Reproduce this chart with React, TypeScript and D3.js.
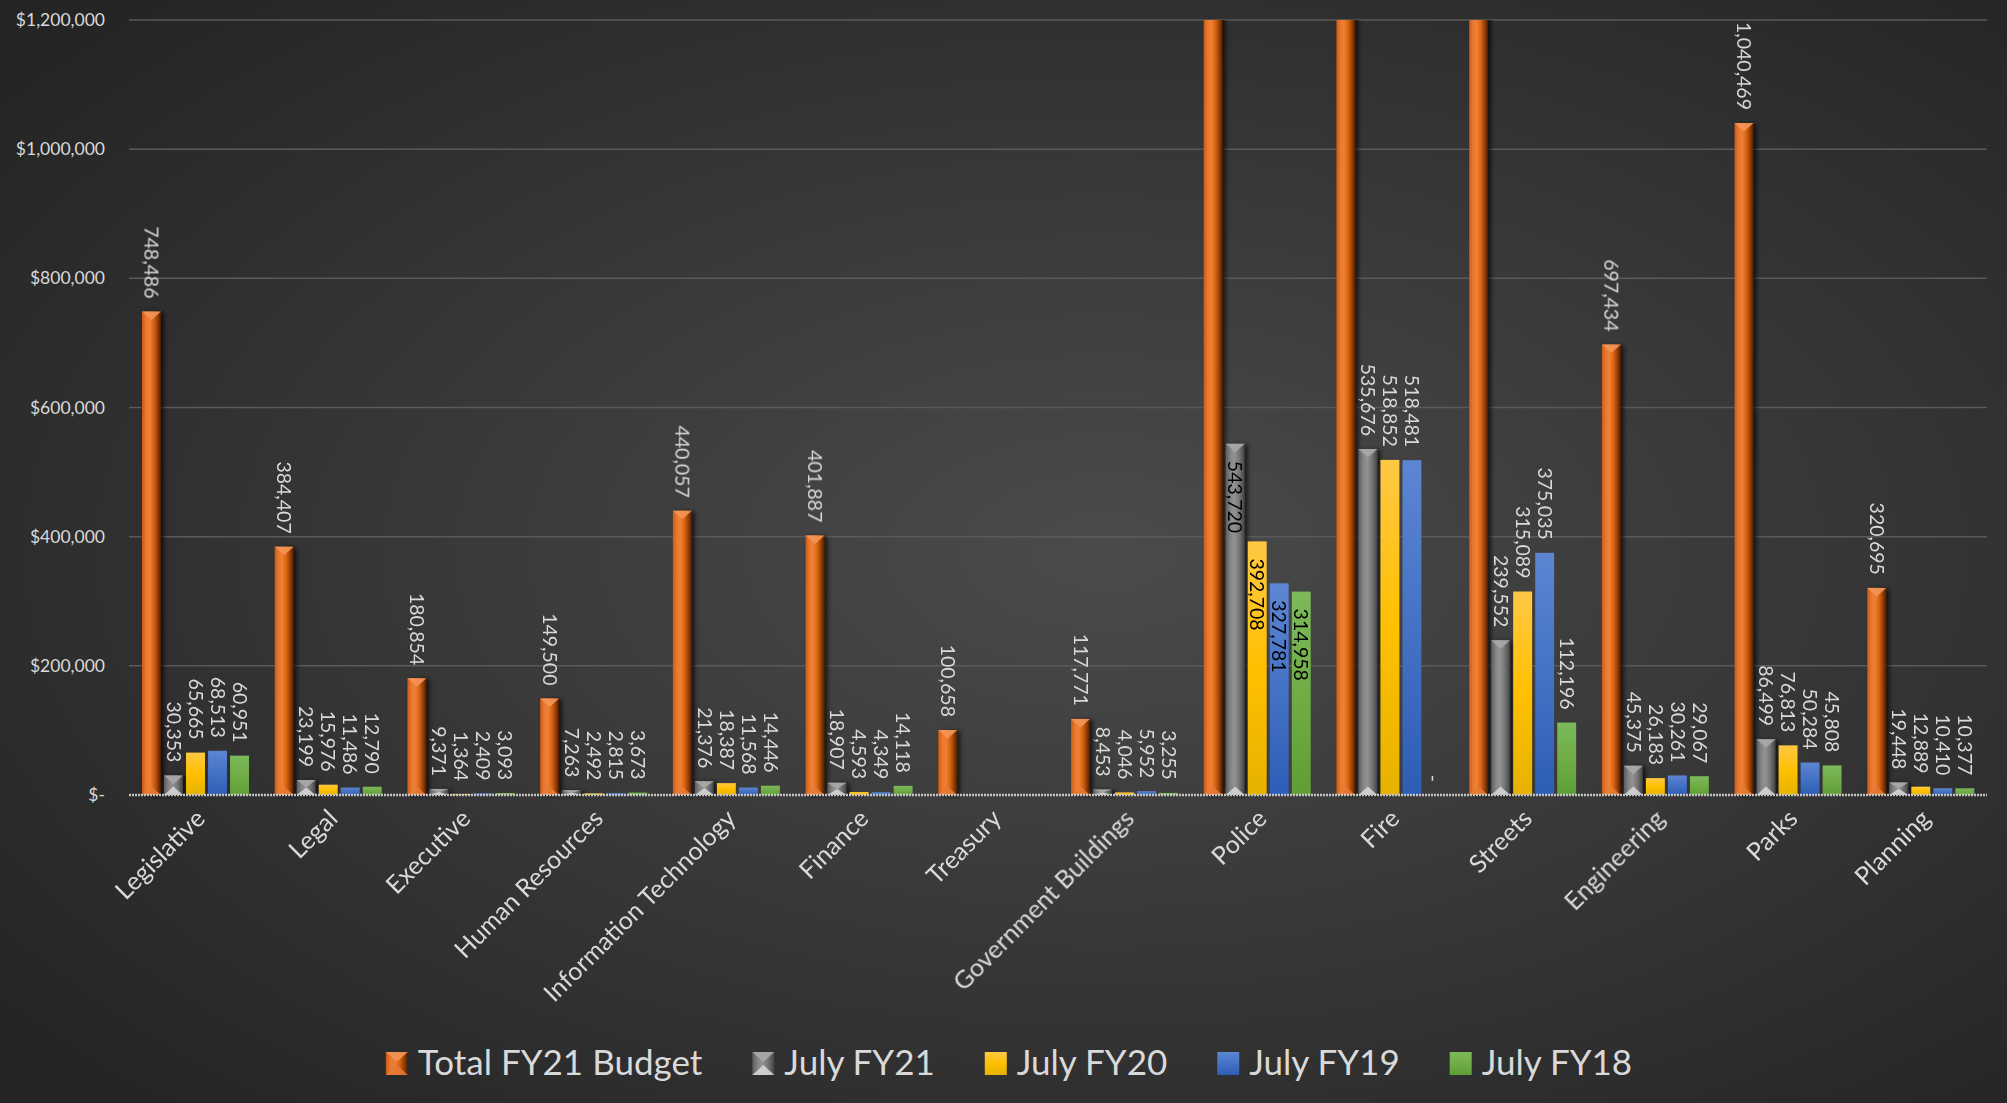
import React, { useEffect, useRef } from 'react';
import * as d3 from 'd3';

const categories = [
  'Legislative', 'Legal', 'Executive', 'Human Resources', 'Information Technology',
  'Finance', 'Treasury', 'Government Buildings', 'Police', 'Fire', 'Streets',
  'Engineering', 'Parks', 'Planning'
];
const seriesNames = ['Total FY21 Budget', 'July FY21', 'July FY20', 'July FY19', 'July FY18'];

// Police, Fire, Streets totals run off the top of the chart (labels not visible) - estimated
const totalFY21 = [748486, 384407, 180854, 149500, 440057, 401887, 100658, 117771, 2900000, 2400000, 1600000, 697434, 1040469, 320695];
const julyFY21 = [30353, 23199, 9371, 7263, 21376, 18907, null, 8453, 543720, 535676, 239552, 45375, 86499, 19448];
const julyFY20 = [65665, 15976, 1364, 2492, 18387, 4593, null, 4046, 392708, 518852, 315089, 26183, 76813, 12889];
const julyFY19 = [68513, 11486, 2409, 2815, 11568, 4349, null, 5952, 327781, 518481, 375035, 30261, 50284, 10410];
const julyFY18 = [60951, 12790, 3093, 3673, 14446, 14118, null, 3255, 314958, 0, 112196, 29067, 45808, 10377];
const yTicks = [0, 200000, 400000, 600000, 800000, 1000000, 1200000];

// categories whose labels sit inside the bar end
const insideLabelCats = ['Police'];

const W = 2007;
const H = 1103;
const FONT = "Lato, 'Open Sans', sans-serif";

export default function App() {
  const ref = useRef<SVGSVGElement>(null);

  useEffect(() => {
    document.body.style.margin = '0';
    const svg = d3.select(ref.current);
    svg.selectAll('*').remove();

    const allSeries = [totalFY21, julyFY21, julyFY20, julyFY19, julyFY18];
    const styles = ['orange', 'gray', 'yellow', 'blue', 'green'];

    const x0 = d3.scaleBand<string>().domain(categories).range([129, 1987]);
    const x1 = d3.scaleBand<string>().domain(seriesNames).range([13, 120]).paddingInner(0.14);
    const y = d3.scaleLinear().domain([0, 1200000]).range([795, 20]);
    const bw = x1.bandwidth();

    const defs = svg.append('defs');

    // 背景
    const bg = defs.append('radialGradient').attr('id', 'bg')
      .attr('cx', '55%').attr('cy', '50%').attr('r', '70%');
    bg.append('stop').attr('offset', 0).attr('stop-color', '#4b4b4b');
    bg.append('stop').attr('offset', 1).attr('stop-color', '#242424');

    const hGrad = (id, stops) => {
      const g = defs.append('linearGradient').attr('id', id)
        .attr('x1', '0%').attr('y1', '0%').attr('x2', '100%').attr('y2', '0%');
      stops.forEach(([o, c]) => g.append('stop').attr('offset', o).attr('stop-color', c));
    };
    const vGrad = (id, stops) => {
      const g = defs.append('linearGradient').attr('id', id)
        .attr('x1', '0%').attr('y1', '0%').attr('x2', '0%').attr('y2', '100%');
      stops.forEach(([o, c]) => g.append('stop').attr('offset', o).attr('stop-color', c));
    };
    hGrad('orange', [[0, '#c95a16'], [0.2, '#e8782e'], [0.4, '#f08038'], [0.62, '#d8640f'], [0.85, '#8c3a06'], [1, '#4a1e04']]);
    hGrad('gray', [[0, '#5c5c5c'], [0.25, '#858585'], [0.45, '#939393'], [0.7, '#777777'], [0.9, '#555555'], [1, '#3e3e3e']]);
    vGrad('yellow', [[0, '#ffc845'], [0.5, '#ffc000'], [1, '#e6b200']]);
    vGrad('blue', [[0, '#5d85d2'], [0.5, '#4472c4'], [1, '#2e5db6']]);
    vGrad('green', [[0, '#7cb95b'], [0.5, '#70ad47'], [1, '#5f9e36']]);

    const shadow = defs.append('filter').attr('id', 'shadow')
      .attr('x', '-50%').attr('y', '-5%').attr('width', '200%').attr('height', '110%');
    shadow.append('feDropShadow').attr('dx', 3).attr('dy', 1).attr('stdDeviation', 2)
      .attr('flood-color', '#000').attr('flood-opacity', 0.65);

    defs.append('clipPath').attr('id', 'plot').append('rect')
      .attr('x', 0).attr('y', 20).attr('width', W).attr('height', 800);

    svg.append('rect').attr('width', W).attr('height', H).attr('fill', 'url(#bg)');

    // 网格线
    svg.append('g').selectAll('line')
      .data(yTicks.filter(d => d > 0))
      .enter().append('line')
      .attr('x1', 129).attr('x2', 1987)
      .attr('y1', d => y(d)).attr('y2', d => y(d))
      .attr('stroke', '#5a5a5a').attr('stroke-width', 1.5);

    // y 轴标签
    svg.append('g').selectAll('text')
      .data(yTicks)
      .enter().append('text')
      .attr('x', 105).attr('y', d => y(d)).attr('dy', '0.35em')
      .attr('text-anchor', 'end')
      .attr('font-family', FONT).attr('font-size', 17.5).attr('fill', '#d9d9d9')
      .text(d => d === 0 ? '$-' : '$' + d3.format(',')(d));

    // draws a bar, with bevel caps for the orange/grey series
    const drawBar = (g, style, x, top, w, h) => {
      g.append('rect').attr('x', x).attr('y', top).attr('width', w).attr('height', h)
        .attr('fill', `url(#${style})`);
      if (style === 'orange' || style === 'gray') {
        const t = Math.min(w * 0.45, h / 2);
        const topC = style === 'orange' ? '#f39556' : '#a9a9a9';
        const botC = style === 'orange' ? '#e47a35' : '#d9d9d9';
        g.append('path')
          .attr('d', `M${x},${top}L${x + w},${top}L${x + w / 2},${top + t}Z`)
          .attr('fill', topC).attr('opacity', 0.9);
        g.append('path')
          .attr('d', `M${x},${top + h}L${x + w},${top + h}L${x + w / 2},${top + h - t}Z`)
          .attr('fill', botC).attr('opacity', 0.85);
      }
    };

    const barsG = svg.append('g').attr('clip-path', 'url(#plot)');
    allSeries.forEach((vals, s) => {
      const sg = barsG.append('g');
      if (s < 2) sg.attr('filter', 'url(#shadow)');
      vals.forEach((v, i) => {
        if (v == null || v <= 0) return;
        const x = x0(categories[i]) + x1(seriesNames[s]);
        const top = y(v);
        drawBar(sg.append('g'), styles[s], x, top, bw, y(0) - top);
      });
    });

    // 坐标轴
    svg.append('line')
      .attr('x1', 129).attr('x2', 1987).attr('y1', y(0)).attr('y2', y(0))
      .attr('stroke', '#c4c4c4').attr('stroke-width', 2.5).attr('stroke-dasharray', '2 1');

    // 数据标签
    const labelsG = svg.append('g')
      .attr('font-family', FONT).attr('font-size', 19.5);
    allSeries.forEach((vals, s) => {
      vals.forEach((v, i) => {
        if (v == null || v > 1200000) return;
        const cx = x0(categories[i]) + x1(seriesNames[s]) + bw / 2;
        const inside = insideLabelCats.includes(categories[i]) && s > 0;
        const ly = inside ? y(v) + 17 : y(v) - 13;
        labelsG.append('text')
          .attr('transform', `translate(${cx},${ly}) rotate(90)`)
          .attr('text-anchor', inside ? 'start' : 'end')
          .attr('dy', '0.35em')
          .attr('fill', inside ? '#000' : '#d9d9d9')
          .text(v === 0 ? '-' : d3.format(',')(v));
      });
    });

    // 类别标签
    svg.append('g').selectAll('text')
      .data(categories)
      .enter().append('text')
      .attr('transform', d => `translate(${x0(d) + x0.bandwidth() / 2 + 5},${814}) rotate(-45)`)
      .attr('text-anchor', 'end').attr('dy', '0.35em')
      .attr('font-family', FONT).attr('font-size', 25).attr('fill', '#d9d9d9')
      .text(d => d);

    // 图例
    const legend = svg.append('g');
    const items = seriesNames.map((name, s) => {
      const g = legend.append('g');
      drawBar(g, styles[s], 0, 1052, 22, 23);
      const t = g.append('text').attr('x', 32).attr('y', 1075)
        .attr('font-family', FONT).attr('font-size', 35).attr('fill', '#d9d9d9')
        .text(name);
      const len = (t.node() as SVGTextElement).getComputedTextLength();
      return { g, width: 32 + len };
    });
    const gap = 50;
    const total = d3.sum(items, d => d.width) + gap * (items.length - 1);
    let cur = 1009 - total / 2;
    items.forEach(it => {
      it.g.attr('transform', `translate(${cur},0)`);
      cur += it.width + gap;
    });
  }, []);

  return <svg ref={ref} width={W} height={H} style={{ display: 'block' }} />;
}
